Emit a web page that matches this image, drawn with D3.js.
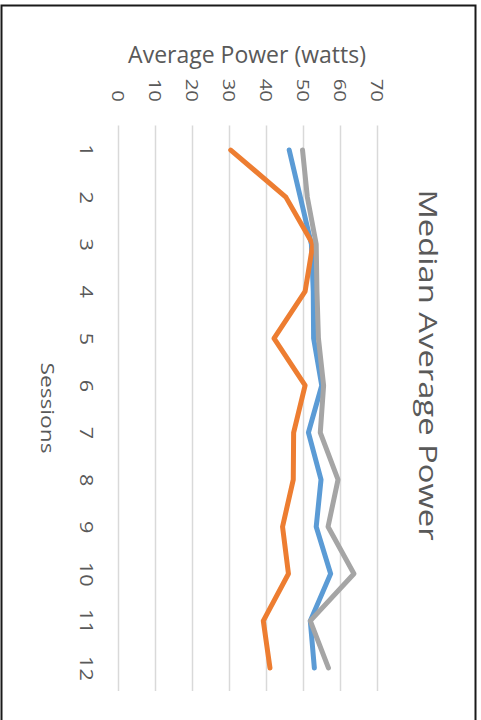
<!DOCTYPE html>
<html>
<head>
<meta charset="utf-8">
<script src="https://cdn.jsdelivr.net/npm/d3@7"></script>
<style>
  html, body { margin: 0; padding: 0; background: #fff; }
  svg { display: block; }
  text { font-family: "Open Sans", "Noto Sans", sans-serif; fill: #595959; }
</style>
</head>
<body>
<svg id="chart" width="481" height="720"></svg>
<script>
// Session numbers along the category axis
const sessions = ["1","2","3","4","5","6","7","8","9","10","11","12"];
// Value axis ticks (watts)
const powerTicks = [0, 10, 20, 30, 40, 50, 60, 70];
// Median average power per session, three series
const seriesBlue   = [46.0, 49.0, 52.0, 52.5, 52.6, 54.8, 51.2, 54.6, 53.3, 57.2, 51.7, 52.8];
const seriesOrange = [30.2, 45.1, 52.4, 50.3, 41.9, 50.3, 47.2, 47.1, 44.2, 45.8, 39.0, 40.8];
const seriesGray   = [49.6, 50.9, 53.3, 53.5, 53.9, 55.3, 54.4, 59.2, 56.5, 63.5, 51.7, 56.6];
const seriesColors = ["#5B9BD5", "#ED7D31", "#A5A5A5"];

const titleText = "Median Average Power";
const valueAxisTitle = "Average Power (watts)";
const categoryAxisTitle = "Sessions";

const svg = d3.select("#chart");

// Chart frame
svg.append("path")
  .attr("d", "M1.5,730 V5.5 H475.5 V730")
  .attr("fill", "none")
  .attr("stroke", "#1a1a1a")
  .attr("stroke-width", 2);

// The chart is laid out in landscape coordinates and turned a quarter clockwise;
// text is widened a little along the category direction.
const H = 481;
const g = svg.append("g").attr("transform", `translate(${H},0) rotate(90)`);
const widen = 1.3;

const x = d3.scalePoint().domain(sessions).range([126.5, 691.5]).padding(0.5);
const y = d3.scaleLinear().domain([0, 70]).range([362, 103]);

// Horizontal gridlines
g.append("g").selectAll("line")
  .data(powerTicks)
  .join("line")
  .attr("x1", 125.5).attr("x2", 691)
  .attr("y1", d => Math.round(y(d)) + 0.5)
  .attr("y2", d => Math.round(y(d)) + 0.5)
  .attr("stroke", "#d9d9d9")
  .attr("stroke-width", 1.5);

// Value axis labels
const yAxis = d3.axisLeft(y).tickValues(powerTicks).tickSize(0).tickPadding(0);
const yg = g.append("g").attr("transform", "translate(102,0)").call(yAxis);
yg.select(".domain").remove();
yg.selectAll("text")
  .attr("x", 0)
  .attr("transform", "scale(1.2,1)")
  .style("font-family", '"Open Sans", sans-serif')
  .style("font-size", "17px")
  .attr("fill", "#595959")
  .attr("text-anchor", "end")
  .attr("dy", "0.36em");

// Category axis labels
const xAxis = d3.axisBottom(x).tickSize(0).tickPadding(0);
const xg = g.append("g").attr("transform", "translate(0,388)").call(xAxis);
xg.select(".domain").remove();
xg.selectAll("text")
  .attr("transform", "scale(1.2,1)")
  .style("font-family", '"Open Sans", sans-serif')
  .style("font-size", "18px")
  .attr("fill", "#595959")
  .attr("dy", "0.71em")
  .attr("y", 0);

// Series lines
const line = d3.line().x((d, i) => x(sessions[i])).y(d => y(d));
[seriesBlue, seriesOrange, seriesGray].forEach((s, k) => {
  g.append("path")
    .datum(s)
    .attr("d", line)
    .attr("fill", "none")
    .attr("stroke", seriesColors[k])
    .attr("stroke-width", 5)
    .attr("stroke-linejoin", "round")
    .attr("stroke-linecap", "round");
});

// Value axis title
g.append("text")
  .attr("transform", "translate(63,234) rotate(-90)")
  .attr("text-anchor", "middle")
  .style("font-size", "23px")
  .text(valueAxisTitle);

// Category axis title
g.append("text")
  .attr("transform", `translate(408,440) scale(${widen},1)`)
  .attr("text-anchor", "middle")
  .style("font-size", "17.5px")
  .text(categoryAxisTitle);

// Chart title
g.append("text")
  .attr("transform", "translate(365,62) scale(1.26,1)")
  .attr("text-anchor", "middle")
  .style("font-size", "26px")
  .text(titleText);
</script>
</body>
</html>
